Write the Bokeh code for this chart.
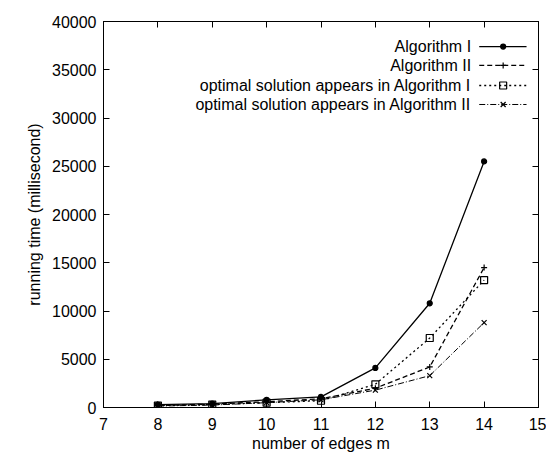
from bokeh.plotting import figure
from bokeh.models import LinearAxis, FixedTicker, Range1d
from bokeh.core.properties import value
from bokeh.embed import file_html
from bokeh.resources import INLINE

# ---- data ----
edges = [8, 9, 10, 11, 12, 13, 14]
alg1 = [300, 400, 800, 1100, 4100, 10800, 25500]
alg2 = [200, 350, 600, 900, 2000, 4200, 14500]
opt1 = [200, 300, 500, 700, 2400, 7200, 13200]
opt2 = [150, 250, 500, 800, 1800, 3300, 8800]
series_names = ["Algorithm I", "Algorithm II",
                "optimal solution appears in Algorithm I",
                "optimal solution appears in Algorithm II"]
x_ticks = [7, 8, 9, 10, 11, 12, 13, 14, 15]
y_ticks = [0, 5000, 10000, 15000, 20000, 25000, 30000, 35000, 40000]

FONT = "Liberation Sans"

p = figure(width=546, height=454, output_backend="svg", toolbar_location=None,
           x_range=Range1d(7, 15), y_range=Range1d(0, 40000),
           min_border_left=103, min_border_right=8, min_border_top=21, min_border_bottom=47)
p.background_fill_color = "white"
p.border_fill_color = "white"
p.outline_line_color = "black"
p.outline_line_width = 1
p.xgrid.visible = False
p.ygrid.visible = False

def style_axis(ax, ticks, labels=True):
    ax.major_tick_in = 6
    ax.major_tick_out = 0
    ax.minor_tick_line_color = None
    ax.axis_line_color = "black"
    ax.major_tick_line_color = "black"
    ax.major_label_text_font = FONT
    ax.major_label_text_color = "black"
    ax.major_label_text_font_size = "16px"
    if not labels:
        ax.major_label_overrides = {t: "" for t in ticks}
        ax.major_label_standoff = 0

p.xaxis.ticker = FixedTicker(ticks=x_ticks)
p.yaxis.ticker = FixedTicker(ticks=y_ticks)
style_axis(p.xaxis[0], x_ticks)
style_axis(p.yaxis[0], y_ticks)
p.xaxis.major_label_standoff = 10
p.yaxis.major_label_standoff = 7
p.xaxis.axis_label = "number of edges m"
p.yaxis.axis_label = "running time (millisecond)"
for ax in (p.xaxis[0], p.yaxis[0]):
    ax.axis_label_text_font = FONT
    ax.axis_label_text_font_style = "normal"
    ax.axis_label_text_font_size = "16px"
    ax.axis_label_text_color = "black"
p.xaxis.axis_label_standoff = 2
p.yaxis.axis_label_standoff = 6

right = LinearAxis(ticker=FixedTicker(ticks=y_ticks))
style_axis(right, y_ticks, labels=False)
p.add_layout(right, "right")
top = LinearAxis(ticker=FixedTicker(ticks=x_ticks))
style_axis(top, x_ticks, labels=False)
p.add_layout(top, "above")

styles = [
    dict(ys=alg1, dash="solid", marker="circle", msize=5, fill="black", width=1.3),
    dict(ys=alg2, dash="5 3", marker="cross", msize=6, fill=None, width=1.3),
    dict(ys=opt1, dash="2 3", marker="square", msize=7, fill=None, width=1.3),
    dict(ys=opt2, dash="6 2 1 2", marker="x", msize=7, fill=None, width=1.0),
]

# legend layout (gnuplot style: right-aligned text, sample to the right)
leg_text_x = 13.76
leg_x0, leg_x1, leg_xm = 13.91, 14.78, 14.35
leg_y = [37400, 35450, 33370, 31400]

for st, name, ly in zip(styles, series_names, leg_y):
    p.line(edges, st["ys"], line_color="black", line_width=st["width"], line_dash=st["dash"])
    p.scatter(edges, st["ys"], marker=st["marker"], size=st["msize"],
              line_color="black", fill_color=st["fill"], line_width=1.2)
    p.segment(x0=[leg_x0], y0=[ly], x1=[leg_x1], y1=[ly], line_color="black",
              line_width=st["width"], line_dash=st["dash"])
    p.scatter([leg_xm], [ly], marker=st["marker"], size=st["msize"],
              line_color="black", fill_color=st["fill"], line_width=1.2)
    p.text(x=[leg_text_x], y=[ly], text=[name], text_align="right", text_baseline="middle",
           text_font=value(FONT), text_font_size="16px", text_color="black")

open("out.html", "w").write(file_html(p, INLINE))
